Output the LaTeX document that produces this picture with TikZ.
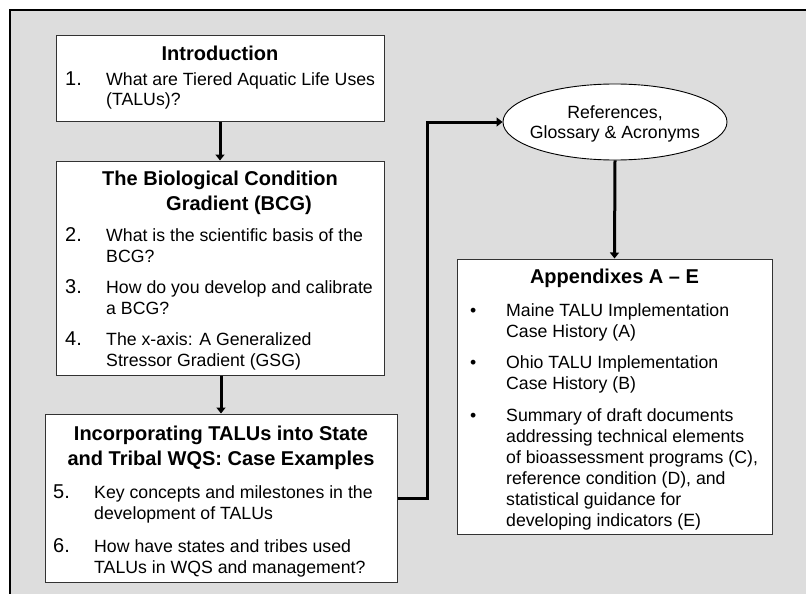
\documentclass[tikz,border=0pt]{standalone}
\usepackage{fontspec}
\setmainfont{Liberation Sans}
\usetikzlibrary{arrows.meta,shapes.geometric}
\definecolor{bgc}{RGB}{221,221,221}
\definecolor{boxline}{RGB}{50,50,50}
\newcommand\bodyfnt{\fontsize{17.7}{21}\selectfont}
\newcommand\titlefnt{\fontsize{20}{25}\selectfont\bfseries}
\newcommand\numfnt{\fontsize{20}{21}\selectfont}
\begin{document}
\begin{tikzpicture}[x=1pt,y=-1pt,
  box/.style={rectangle,draw=boxline,fill=white,line width=1pt,inner sep=0pt},
  ell/.style={ellipse,draw=black,fill=white,line width=0.9pt,inner sep=0pt},
  txt/.style={anchor=base west,inner sep=0pt,font=\bodyfnt},
  ctxt/.style={anchor=base,inner sep=0pt,font=\bodyfnt},
  num/.style={anchor=base west,inner sep=0pt,font=\numfnt},
  ttl/.style={anchor=base,inner sep=0pt,font=\titlefnt},
  conn/.style={line width=3pt,-{Triangle[length=6pt,width=9pt]}}]
\useasboundingbox (0,0) rectangle (806,594);
\fill[bgc] (10,10) rectangle (806,594);
\draw[line width=1.5pt] (806,10) -- (10,10) -- (10,594);

% boxes
\node[box,minimum width=328pt,minimum height=85pt] (intro) at (220,78.5) {};
\node[box,minimum width=328pt,minimum height=214pt] (bcg) at (220,268) {};
\node[box,minimum width=352pt,minimum height=168pt] (inc) at (221,498) {};
\node[box,minimum width=315pt,minimum height=275pt] (app) at (614.5,396.5) {};
\node[ell,minimum width=224pt,minimum height=76pt] (refs) at (615,122) {};

% Introduction
\node[ttl] (tI) at (220,61) {Introduction};
\node[num] (n1) at (65,85) {1.};
\node[txt] (t1a) at (106,85) {What are Tiered Aquatic Life Uses};
\node[txt] (t1b) at (106,106) {(TALUs)?};

% BCG
\node[ttl] (tB1) at (220,185) {The Biological Condition};
\node[ttl] (tB2) at (239,210) {Gradient (BCG)};
\node[num] (n2) at (65,241) {2.};
\node[txt] (t2a) at (106,241) {What is the scientific basis of the};
\node[txt] (t2b) at (106,262) {BCG?};
\node[num] (n3) at (65,293) {3.};
\node[txt] (t3a) at (106,293) {How do you develop and calibrate};
\node[txt] (t3b) at (106,314) {a BCG?};
\node[num] (n4) at (65,345) {4.};
\node[txt] (t4a) at (106,345) {The x-axis: A Generalized};
\node[txt] (t4b) at (106,366) {Stressor Gradient (GSG)};

% Incorporating
\node[ttl] (tC1) at (221,440) {Incorporating TALUs into State};
\node[ttl] (tC2) at (221,465) {and Tribal WQS: Case Examples};
\node[num] (n5) at (53,498) {5.};
\node[txt] (t5a) at (94,498) {Key concepts and milestones in the};
\node[txt] (t5b) at (94,519) {development of TALUs};
\node[num] (n6) at (53,552) {6.};
\node[txt] (t6a) at (94,552) {How have states and tribes used};
\node[txt] (t6b) at (94,573) {TALUs in WQS and management?};

% References ellipse
\node[ctxt] (r1) at (615,118) {References,};
\node[ctxt] (r2) at (615,138) {Glossary \& Acronyms};

% Appendixes
\node[ttl] (tA) at (614.5,283) {Appendixes A – E};
\node[txt] (b1) at (470,316) {•};
\node[txt] (a1a) at (506,316) {Maine TALU Implementation};
\node[txt] (a1b) at (506,337) {Case History (A)};
\node[txt] (b2) at (470,368) {•};
\node[txt] (a2a) at (506,368) {Ohio TALU Implementation};
\node[txt] (a2b) at (506,389) {Case History (B)};
\node[txt] (b3) at (470,421) {•};
\node[txt] (a3a) at (506,421) {Summary of draft documents};
\node[txt] (a3b) at (506,442) {addressing technical elements};
\node[txt] (a3c) at (506,463) {of bioassessment programs (C),};
\node[txt] (a3d) at (506,484) {reference condition (D), and};
\node[txt] (a3e) at (506,505) {statistical guidance for};
\node[txt] (a3f) at (506,526) {developing indicators (E)};

% connectors
\draw[conn] (intro.south) -- (bcg.north);
\draw[conn] (bcg.south -| inc.north) -- (inc.north);
\draw[conn] (inc.east) -- ++(30,0) |- (refs.west);
\draw[conn] (refs.south) -- (app.north);
\end{tikzpicture}
\end{document}
